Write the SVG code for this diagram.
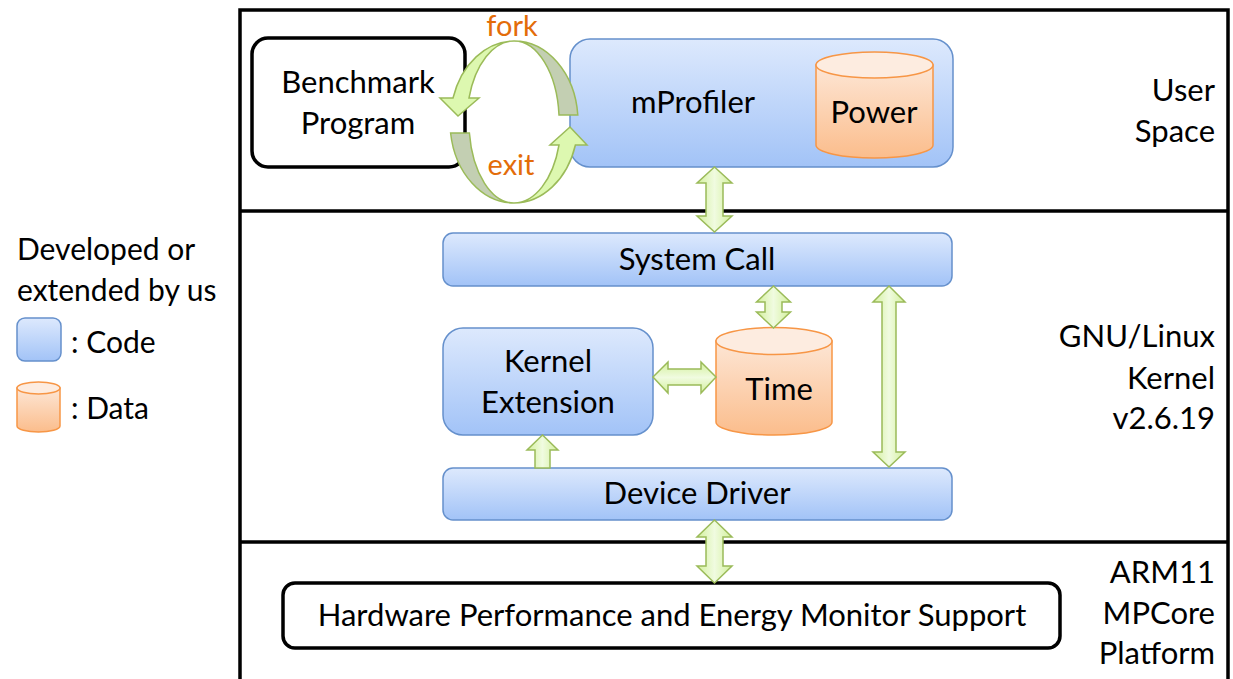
<svg xmlns="http://www.w3.org/2000/svg" width="1233" height="679" viewBox="0 0 1233 679">
<defs>
<linearGradient id="gBlue" x1="0" y1="0" x2="0" y2="1"><stop offset="0" stop-color="#dde9fd"/><stop offset="1" stop-color="#a2c3f7"/></linearGradient>
<linearGradient id="gOrange" x1="0" y1="0" x2="0" y2="1"><stop offset="0" stop-color="#fde6d5"/><stop offset="1" stop-color="#fbbd8c"/></linearGradient>
<linearGradient id="gGreenV" x1="0" y1="0" x2="1" y2="0"><stop offset="0" stop-color="#d3f09c"/><stop offset="0.5" stop-color="#f0fbe0"/><stop offset="1" stop-color="#d3f09c"/></linearGradient>
<linearGradient id="gGreenH" x1="0" y1="0" x2="0" y2="1"><stop offset="0" stop-color="#d3f09c"/><stop offset="0.5" stop-color="#f0fbe0"/><stop offset="1" stop-color="#d3f09c"/></linearGradient>
<style>
text{font-family:Lato,"Liberation Sans",sans-serif;fill:#000}
.t{font-size:31px}
.l{font-size:30px}
.c{text-anchor:middle}
.r{text-anchor:end}
.o{fill:#e36c09;font-size:29px}
.frame{fill:none;stroke:#000;stroke-width:3.5}
.blk{fill:#fff;stroke:#000;stroke-width:3.5}
.code{fill:url(#gBlue);stroke:#6590cc;stroke-width:1.5}
.data{fill:url(#gOrange);stroke:#f79646;stroke-width:1.5}
.datatop{fill:#fdece0;stroke:#f79646;stroke-width:1.5}
.av{fill:url(#gGreenV);stroke:#9bbb59;stroke-width:1.5;stroke-linejoin:miter}
.ah{fill:url(#gGreenH);stroke:#9bbb59;stroke-width:1.5}
.light{fill:#ddf8b0;stroke:#9bbb59;stroke-width:1.5}
.dark{fill:#c3cfb2;stroke:#9bbb59;stroke-width:1.5}
</style>
</defs>
<g id="frame">
<rect class="frame" x="240" y="10" width="988" height="700"/>
<line x1="240" y1="211" x2="1228" y2="211" stroke="#000" stroke-width="3.5"/>
<line x1="240" y1="542" x2="1228" y2="542" stroke="#000" stroke-width="3.5"/>
</g>
<g id="layer-labels">
<text class="t r" x="1215" y="101">User</text>
<text class="t r" x="1215" y="142">Space</text>
<text class="t r" x="1215" y="347">GNU/Linux</text>
<text class="t r" x="1215" y="389">Kernel</text>
<text class="t r" x="1215" y="429">v2.6.19</text>
<text class="t r" x="1215" y="583">ARM11</text>
<text class="t r" x="1215" y="624">MPCore</text>
<text class="t r" x="1215" y="664">Platform</text>
</g>
<g id="legend">
<text class="l" x="17" y="260">Developed or</text>
<text class="l" x="17" y="301">extended by us</text>
<rect class="code" x="17" y="318" width="44" height="43" rx="8"/>
<text class="l" x="71" y="353">: Code</text>
<path class="data" d="M17 388 L17 426 A21.5 6 0 0 0 60 426 L60 388 Z"/>
<ellipse class="datatop" cx="38.5" cy="388" rx="21.5" ry="6"/>
<text class="l" x="71" y="419">: Data</text>
</g>
<g id="benchmark">
<rect class="blk" x="252" y="38" width="213" height="129" rx="16"/>
<text class="t c" x="358" y="93">Benchmark</text>
<text class="t c" x="358" y="134">Program</text>
</g>
<g id="mprofiler">
<rect class="code" x="570" y="39" width="383" height="128" rx="20"/>
<text class="t c" x="693" y="113">mProfiler</text>
</g>
<g id="power">
<path class="data" d="M816 65 L816 145 A58.5 13 0 0 0 933 145 L933 65 Z"/>
<ellipse class="datatop" cx="874.5" cy="65" rx="58.5" ry="13"/>
<text class="t c" x="874" y="123">Power</text>
</g>
<g id="syscall">
<rect class="code" x="443" y="233" width="509" height="53" rx="10"/>
<text class="t c" x="697" y="270">System Call</text>
</g>
<g id="kext">
<rect class="code" x="443" y="328" width="210" height="107" rx="20"/>
<text class="t c" x="548" y="372">Kernel</text>
<text class="t c" x="548" y="413">Extension</text>
</g>
<g id="time">
<path class="data" d="M716 341 L716 422 A58 13 0 0 0 832 422 L832 341 Z"/>
<ellipse class="datatop" cx="774" cy="341" rx="58" ry="13.5"/>
<text class="t c" x="779" y="400">Time</text>
</g>
<g id="driver">
<rect class="code" x="443" y="468" width="509" height="52" rx="10"/>
<text class="t c" x="697" y="504">Device Driver</text>
</g>
<g id="hardware">
<rect class="blk" x="283" y="583" width="777" height="65" rx="12"/>
<text class="t c" x="672" y="626">Hardware Performance and Energy Monitor Support</text>
</g>
<g id="connectors">
<path class="dark" d="M514 41 A64 81 0 0 1 577.8 115 L559 115 A45 81 0 0 0 514 41 Z"/>
<path class="light" d="M514 41 A64 81 0 0 0 453 98 L440 98 L458 116 L479 98 L469 98 A47 81 0 0 1 514 41 Z"/>
<path class="dark" d="M450.6 133 A64 81 0 0 0 514 203 A45 81 0 0 1 469.4 133 Z"/>
<path class="light" d="M514 203 A64 81 0 0 0 575.4 145 L587 145 L570 127 L550 145 L559 145 A47 81 0 0 1 514 203 Z"/>
<text class="o c" x="512" y="36">fork</text>
<text class="o c" x="511" y="175">exit</text>
<path class="av" d="M714.5 167 L732 183 L723 183 L723 216 L732 216 L714.5 232 L697 216 L706 216 L706 183 L697 183 Z"/>
<path class="av" d="M773.5 286 L790.5 302 L782 302 L782 312 L790.5 312 L773.5 328 L756.5 312 L765 312 L765 302 L756.5 302 Z"/>
<path class="av" d="M889 286 L905 302 L896 302 L896 452 L905 452 L889 467 L873 452 L882 452 L882 302 L873 302 Z"/>
<path class="ah" d="M653 377 L668 362 L668 369 L701 369 L701 362 L716 377 L701 393 L701 385 L668 385 L668 393 Z"/>
<path class="av" d="M542.5 435 L558 450 L550 450 L550 468 L535 468 L535 450 L527 450 Z"/>
<path class="av" d="M714.5 520 L732 537 L723 537 L723 566 L732 566 L714.5 583 L697 566 L706 566 L706 537 L697 537 Z"/>
</g>
</svg>
